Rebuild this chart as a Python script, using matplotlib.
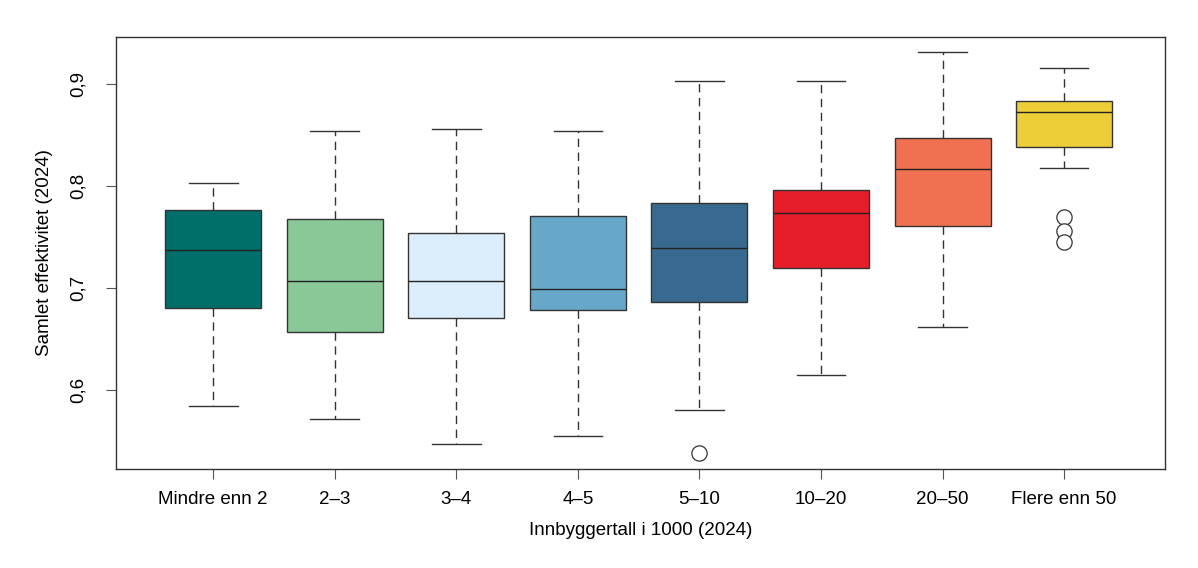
import matplotlib.pyplot as plt
from matplotlib import font_manager

# groups and box statistics
labels = ["Mindre enn 2", "2–3", "3–4", "4–5", "5–10", "10–20", "20–50", "Flere enn 50"]
whislo = [0.584, 0.572, 0.547, 0.555, 0.580, 0.615, 0.662, 0.818]
q1 = [0.680, 0.657, 0.671, 0.678, 0.686, 0.720, 0.761, 0.838]
med = [0.737, 0.707, 0.707, 0.699, 0.739, 0.773, 0.817, 0.872]
q3 = [0.776, 0.768, 0.754, 0.771, 0.783, 0.796, 0.847, 0.883]
whishi = [0.803, 0.854, 0.856, 0.854, 0.903, 0.903, 0.931, 0.916]
fliers = [[], [], [], [], [0.538], [], [], [0.770, 0.756, 0.745]]
colors = ["#006e69", "#8ac898", "#dcedfb", "#67a8c8", "#386a8f", "#e61e2a", "#ef7152", "#edce38"]

names = {f.name for f in font_manager.fontManager.ttflist}
fam = "Liberation Sans Narrow" if "Liberation Sans Narrow" in names else "Liberation Sans"
plt.rcParams['font.family'] = [fam, 'DejaVu Sans']

stats = []
for i in range(len(labels)):
    stats.append(dict(whislo=whislo[i], q1=q1[i], med=med[i], q3=q3[i],
                      whishi=whishi[i], fliers=fliers[i], label=labels[i]))

fig = plt.figure(figsize=(11.98, 5.68), dpi=100)
ax = fig.add_axes([116 / 1198, 99 / 568, 1049 / 1198, 432 / 568])

bp = ax.bxp(stats, positions=range(1, 9), widths=0.79, capwidths=0.4,
            patch_artist=True, showfliers=True,
            boxprops=dict(edgecolor="#333333", linewidth=1.0),
            whiskerprops=dict(color="#333333", linewidth=1.0, linestyle=(0, (6, 4))),
            capprops=dict(color="#333333", linewidth=1.0),
            medianprops=dict(color="#222222", linewidth=1.0),
            flierprops=dict(marker="o", markersize=11, markerfacecolor="white",
                            markeredgecolor="#333333", markeredgewidth=0.9))
for patch, c in zip(bp["boxes"], colors):
    patch.set_facecolor(c)

ax.set_xlim(0.2, 8.83)
ax.set_ylim(0.5225, 0.946)
ax.set_yticks([0.6, 0.7, 0.8, 0.9])
ax.set_yticklabels(["0,6", "0,7", "0,8", "0,9"], rotation=90, va="center")
ax.set_xticks(range(1, 9))
ax.set_xticklabels(labels)
ax.tick_params(axis="x", direction="out", length=7, width=0.8, color="#555555",
               labelsize=13.5, pad=9)
ax.tick_params(axis="y", direction="out", length=7, width=0.8, color="#555555",
               labelsize=13.5, pad=14)
for s in ax.spines.values():
    s.set_color("#333333")
    s.set_linewidth(1.0)

ax.set_xlabel("Innbyggertall i 1000 (2024)", fontsize=13.5, labelpad=10)
ax.set_ylabel("Samlet effektivitet (2024)", fontsize=13.5, labelpad=12)

fig.savefig("out.png", dpi=100)
